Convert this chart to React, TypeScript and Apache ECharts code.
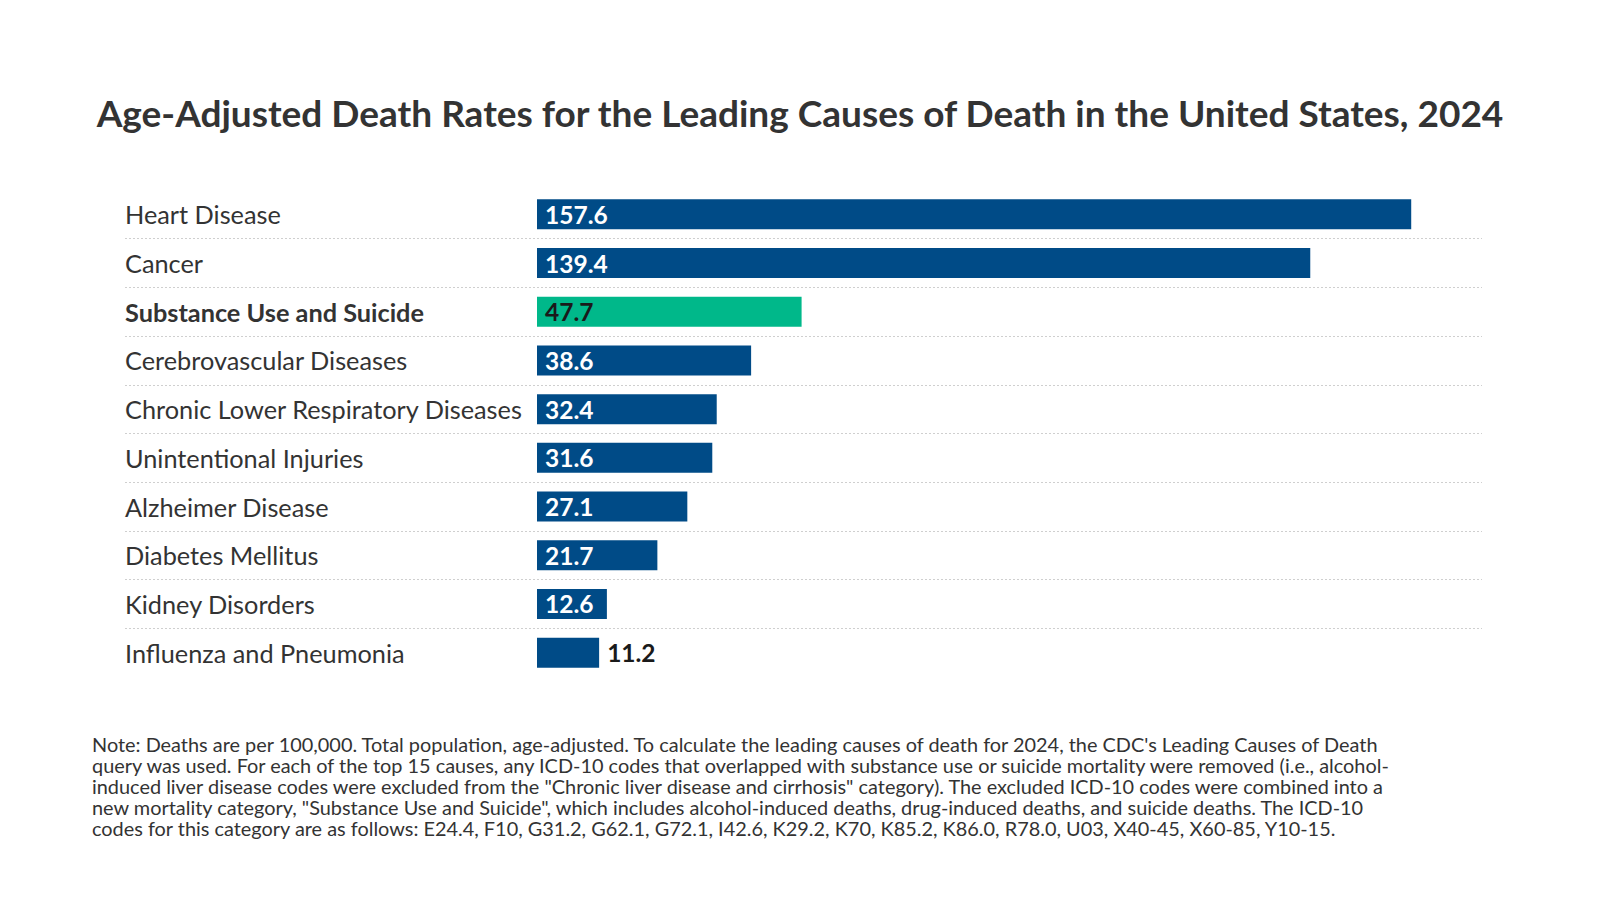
import React, { useEffect, useRef } from "react";
import * as echarts from "echarts";

const titleText =
  "Age-Adjusted Death Rates for the Leading Causes of Death in the United States, 2024";

const causes = [
  "Heart Disease",
  "Cancer",
  "Substance Use and Suicide",
  "Cerebrovascular Diseases",
  "Chronic Lower Respiratory Diseases",
  "Unintentional Injuries",
  "Alzheimer Disease",
  "Diabetes Mellitus",
  "Kidney Disorders",
  "Influenza and Pneumonia",
];

const rates = [157.6, 139.4, 47.7, 38.6, 32.4, 31.6, 27.1, 21.7, 12.6, 11.2];

const highlighted = ["Substance Use and Suicide"];

const noteLines = [
  "Note: Deaths are per 100,000. Total population, age-adjusted. To calculate the leading causes of death for 2024, the CDC's Leading Causes of Death",
  "query was used. For each of the top 15 causes, any ICD-10 codes that overlapped with substance use or suicide mortality were removed (i.e., alcohol-",
  "induced liver disease codes were excluded from the \"Chronic liver disease and cirrhosis\" category). The excluded ICD-10 codes were combined into a",
  "new mortality category, \"Substance Use and Suicide\", which includes alcohol-induced deaths, drug-induced deaths, and suicide deaths. The ICD-10",
  "codes for this category are as follows: E24.4, F10, G31.2, G62.1, G72.1, I42.6, K29.2, K70, K85.2, K86.0, R78.0, U03, X40-45, X60-85, Y10-15.",
];

const FONT = "Lato, 'Noto Sans', sans-serif";
const BLUE = "#004b87";
const GREEN = "#00b88a";
const TEXT = "#333333";

export default function App() {
  const ref = useRef<HTMLDivElement>(null);

  useEffect(() => {
    if (!ref.current) return;
    const chart = echarts.init(ref.current, undefined, { renderer: "svg" });

    const top = 190;
    const height = 487;

    const data = rates.map((v, i) => {
      const hi = highlighted.includes(causes[i]);
      const outside = v < 12;
      return {
        value: v,
        itemStyle: { color: hi ? GREEN : BLUE },
        label: {
          position: outside ? "right" : "insideLeft",
          distance: 8,
          color: hi || outside ? "#1a1a1a" : "#ffffff",
        },
      };
    });

    chart.setOption({
      animation: false,
      backgroundColor: "#ffffff",
      title: {
        text: titleText,
        left: "center",
        top: 89,
        textStyle: {
          fontFamily: FONT,
          fontSize: 37,
          fontWeight: "bold",
          color: TEXT,
        },
      },
      grid: [
        { left: 125, right: 118, top, height, containLabel: false },
        { left: 537, right: 120, top, height, containLabel: false },
      ],
      xAxis: [
        { type: "value", gridIndex: 0, min: 0, max: 1, show: false },
        { type: "value", gridIndex: 1, min: 0, max: 170, show: false },
      ],
      yAxis: [
        {
          type: "category",
          gridIndex: 0,
          data: causes,
          inverse: true,
          axisLine: { show: false },
          axisTick: { show: false },
          axisLabel: { show: false },
          splitLine: {
            show: true,
            showMinLine: false,
            showMaxLine: false,
            lineStyle: { color: "#cfcfcf", type: [2, 2], width: 1 },
          },
        },
        {
          type: "category",
          gridIndex: 1,
          data: causes,
          inverse: true,
          axisLine: { show: false },
          axisTick: { show: false },
          splitLine: { show: false },
          axisLabel: {
            margin: 412,
            align: "left",
            fontFamily: FONT,
            fontSize: 25.3,
            color: TEXT,
            formatter: (val: string) =>
              highlighted.includes(val) ? `{b|${val}}` : val,
            rich: {
              b: {
                fontFamily: FONT,
                fontSize: 25.3,
                fontWeight: "bold",
                color: TEXT,
              },
            },
          },
        },
      ],
      series: [
        {
          type: "bar",
          xAxisIndex: 1,
          yAxisIndex: 1,
          data,
          barWidth: 30,
          label: {
            show: true,
            fontFamily: FONT,
            fontSize: 24.5,
            fontWeight: "bold",
            formatter: (p: any) => Number(p.value).toFixed(1),
          },
        },
      ],
      graphic: [
        {
          type: "text",
          left: 92,
          top: 733,
          style: {
            text: noteLines.join("\n"),
            fontFamily: FONT,
            fontSize: 19.9,
            lineHeight: 21,
            fill: TEXT,
          },
        },
      ],
    });

    return () => chart.dispose();
  }, []);

  return (
    <div
      ref={ref}
      style={{ position: "fixed", left: 0, top: 0, width: 1600, height: 900 }}
    />
  );
}
